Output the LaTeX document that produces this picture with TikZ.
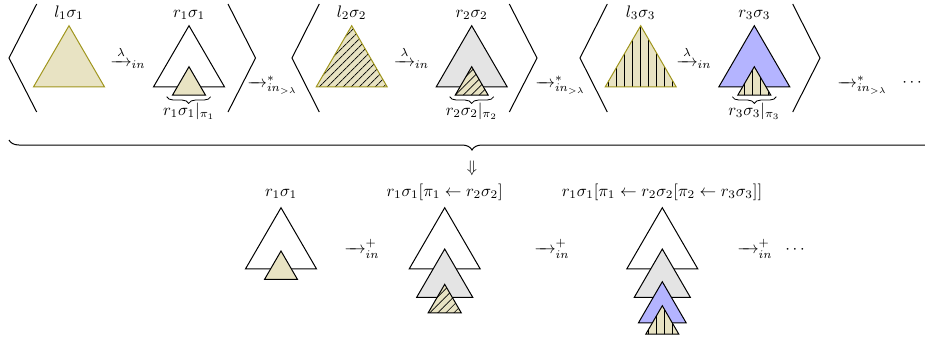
\documentclass[tikz,border=0pt]{standalone}
\usepackage{amsmath}
\usetikzlibrary{patterns.meta,decorations.pathreplacing}
\definecolor{tribeige}{RGB}{232,227,195}
\definecolor{triolive}{RGB}{160,150,30}
\definecolor{trigray}{RGB}{228,228,228}
\definecolor{triblue}{RGB}{180,180,255}
\newcommand{\mytri}[4]{\draw[#4] (#1,#2) -- ++({-#3/2},{0.862*#3}) -- ++(#3,0) -- cycle;}
\newcommand{\longarr}[1]{\mathrel{\hbox to #1{\rightarrowfill}}}
\begin{document}
\begin{tikzpicture}[x=0.6pt,y=-0.6pt,
  base/.style={line width=0.6pt},
  lhs/.style={base,draw=triolive,fill=tribeige},
  plain/.style={base,draw=black,fill=white},
  subt/.style={base,draw=black,fill=tribeige},
  graytri/.style={base,draw=black,fill=trigray},
  bluetri/.style={base,draw=black,fill=triblue},
  hatchNE/.style={preaction={fill=tribeige},pattern={Lines[angle=45,distance=3.4pt,line width=0.4pt]},pattern color=black},
  hatchV/.style={preaction={fill=tribeige},pattern={Lines[angle=90,distance=4.8pt,line width=0.4pt]},pattern color=black},
  bracket/.style={line width=0.6pt},
  lbl/.style={anchor=base,inner sep=0pt},
  arr/.style={anchor=base west,inner sep=0pt},
  smallbrace/.style={decorate,decoration={brace,mirror,amplitude=4pt},line width=0.5pt},
  bigbrace/.style={decorate,decoration={brace,mirror,amplitude=6pt},line width=0.6pt}]
\useasboundingbox (0,0) rectangle (925,342);

% ---------- top row: brackets ----------
\draw[bracket] (36.7,4) -- (9,58) -- (36.7,112);
\draw[bracket] (228,4) -- (255.5,58) -- (228,112);
\draw[bracket] (319.3,4) -- (292,58) -- (319.3,112);
\draw[bracket] (509.3,4) -- (537,58) -- (509.3,112);
\draw[bracket] (607.3,4) -- (580,58) -- (607.3,112);
\draw[bracket] (792.7,4) -- (820,58) -- (792.7,112);

% ---------- top row: triangles ----------
\mytri{69}{25.7}{71}{lhs}
\mytri{189}{25.7}{71}{plain}
\mytri{189}{66.7}{33}{subt}

\mytri{351.7}{25.7}{71}{lhs,hatchNE}
\mytri{471.7}{25.7}{71}{graytri}
\mytri{471.7}{66.7}{33}{subt,hatchNE}

\mytri{640.7}{25.7}{71}{lhs,hatchV}
\mytri{754.3}{25.7}{71}{bluetri}
\mytri{754.3}{66.7}{33}{subt,hatchV}

% ---------- top row: labels ----------
\node[lbl] (l1) at (69,17) {$l_1\sigma_1$};
\node[lbl] (r1) at (189,17) {$r_1\sigma_1$};
\node[lbl] (l2) at (351.7,17) {$l_2\sigma_2$};
\node[lbl] (r2) at (471.7,17) {$r_2\sigma_2$};
\node[lbl] (l3) at (640.7,17) {$l_3\sigma_3$};
\node[lbl] (r3) at (754.3,17) {$r_3\sigma_3$};

\draw[smallbrace] (166.7,96.7) -- (210.7,96.7);
\draw[smallbrace] (449.7,96.7) -- (493.7,96.7);
\draw[smallbrace] (732.3,96.7) -- (776.3,96.7);
\node[lbl] (p1) at (189,115) {$r_1\sigma_1|_{\pi_1}$};
\node[lbl] (p2) at (471.7,115) {$r_2\sigma_2|_{\pi_2}$};
\node[lbl] (p3) at (754.3,115) {$r_3\sigma_3|_{\pi_3}$};

% ---------- top row: arrows ----------
\node[arr] (s1) at (110,66.2) {${\overset{\lambda}{\longarr{12.8pt}}}_{in}$};
\node[arr] (s2) at (393.5,66.2) {${\overset{\lambda}{\longarr{12.8pt}}}_{in}$};
\node[arr] (s3) at (676,66.2) {${\overset{\lambda}{\longarr{12.8pt}}}_{in}$};
\node[arr] (t1) at (247,87.2) {$\longarr{11.8pt}^{*}_{in_{>\lambda}}$};
\node[arr] (t2) at (535,87.2) {$\longarr{11.8pt}^{*}_{in_{>\lambda}}$};
\node[arr] (t3) at (837,87.2) {$\longarr{11.8pt}^{*}_{in_{>\lambda}}$};
\node[arr] (d1) at (902,86) {$\cdots$};

% ---------- brace and implication ----------
\draw[bigbrace] (9,140) -- (935,140);
\node (impl) at (472,168) {$\Downarrow$};

% ---------- bottom row ----------
\mytri{281}{207.7}{71}{plain}
\mytri{281}{251}{33}{subt}

\mytri{444.7}{207.7}{71}{plain}
\mytri{444.7}{249}{56}{graytri}
\mytri{444.7}{284.3}{33}{subt,hatchNE}

\mytri{662.3}{207.7}{71}{plain}
\mytri{662.3}{249}{56}{graytri}
\mytri{662.3}{281.7}{47.7}{bluetri}
\mytri{662.3}{305.7}{33}{subt,hatchV}

\node[lbl] (b1) at (281,196) {$r_1\sigma_1$};
\node[lbl] (b2) at (444.7,196) {$r_1\sigma_1[\pi_1\leftarrow r_2\sigma_2]$};
\node[lbl] (b3) at (662,196) {$r_1\sigma_1[\pi_1\leftarrow r_2\sigma_2[\pi_2\leftarrow r_3\sigma_3]]$};

\node[arr] (u1) at (344,253.5) {$\longarr{12.8pt}^{+}_{in}$};
\node[arr] (u2) at (534,253.5) {$\longarr{12.8pt}^{+}_{in}$};
\node[arr] (u3) at (737,253.5) {$\longarr{12.8pt}^{+}_{in}$};
\node[arr] (d2) at (785,253.5) {$\cdots$};
\end{tikzpicture}
\end{document}
